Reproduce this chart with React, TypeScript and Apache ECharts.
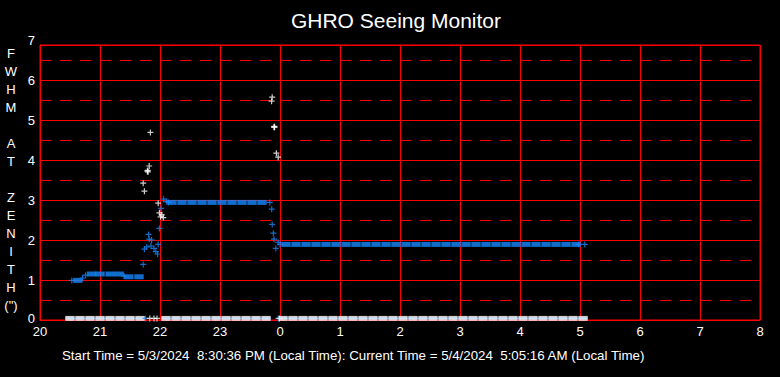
import React, { useEffect, useRef } from 'react';
import * as echarts from 'echarts';

const titleText = 'GHRO Seeing Monitor';
const footerText =
  'Start Time = 5/3/2024  8:30:36 PM (Local Time): Current Time = 5/4/2024  5:05:16 AM (Local Time)';
const yAxisTitle = ['F', 'W', 'H', 'M', '', 'A', 'T', '', 'Z', 'E', 'N', 'I', 'T', 'H', '(")'];
const xTickLabels = ['20', '21', '22', '23', '0', '1', '2', '3', '4', '5', '6', '7', '8'];
const yTickLabels = ['0', '1', '2', '3', '4', '5', '6', '7'];

// Hours are counted from 20:00 of the start day; 24 = midnight.
const sampleStepH = 1 / 6;

// Bottom row (no-measurement markers), regularly sampled runs
const bottomRun1Start = 20.5;
const bottomRun1 = [0.04, 0.04, 0.04, 0.04, 0.04, 0.04, 0.04, 0.04];
const bottomRun2Start = 22.1;
const bottomRun2 = [0.04, 0.04, 0.04, 0.04, 0.04, 0.04, 0.04, 0.04, 0.04, 0.04, 0.04];
const bottomRun3Start = 24.05;
const bottomRun3 = [
  0.04, 0.04, 0.04, 0.04, 0.04, 0.04, 0.04, 0.04, 0.04, 0.04,
  0.04, 0.04, 0.04, 0.04, 0.04, 0.04, 0.04, 0.04, 0.04, 0.04,
  0.04, 0.04, 0.04, 0.04, 0.04, 0.04, 0.04, 0.04, 0.04, 0.04, 0.04,
];
const bottomWhiteExtra = [[21.83, 0.04], [21.9, 0.04], [21.95, 0.04], [23.99, 0.04]];
const bottomBlueExtra = [[21.76, 0.04], [23.97, 0.04]];

// FWHM (blue) dense runs
const fwhmHighStart = 22.2;
const fwhmHigh = [2.94, 2.94, 2.94, 2.94, 2.94, 2.94, 2.94, 2.94, 2.94, 2.94];
const fwhmMidStart = 24.1;
const fwhmMid = [
  1.89, 1.89, 1.89, 1.89, 1.89, 1.89, 1.89, 1.89, 1.89, 1.89,
  1.89, 1.89, 1.89, 1.89, 1.89, 1.89, 1.89, 1.89, 1.89, 1.89,
  1.89, 1.89, 1.89, 1.89, 1.89, 1.89, 1.89, 1.89, 1.89, 1.89,
];
const fwhmLowTimes = [20.63, 20.86, 21.0, 21.17, 21.32, 21.48, 21.65];
const fwhmLowValues = [0.99, 1.15, 1.15, 1.15, 1.15, 1.08, 1.08];

// FWHM (blue) individual readings
const fwhmPointTimes = [
  20.53, 20.71, 20.76, 21.4,
  21.72, 21.74, 21.78, 21.81, 21.82, 21.85, 21.86, 21.9, 21.93, 21.96, 21.97, 21.99,
  22.02, 22.06, 22.11, 22.14,
  23.83, 23.862, 23.87, 23.89, 23.9, 23.93, 23.97, 24.0, 28.98, 29.08,
];
const fwhmPointValues = [
  0.99, 1.05, 1.12, 1.1,
  1.39, 1.77, 1.83, 2.14, 2.02, 1.85, 2.0, 1.79, 1.71, 1.65, 1.89, 2.29,
  2.79, 3.02, 2.96, 2.94,
  2.94, 2.77, 2.39, 2.17, 2.02, 1.79, 1.94, 1.89, 1.89, 1.89,
];

// Second (white) readings
const rawTimes = [
  21.72, 21.74, 21.79, 21.795, 21.8, 21.82, 21.84,
  21.97, 21.99, 22.01, 22.03, 22.055,
  23.86, 23.87, 23.9, 23.905, 23.91, 23.94, 23.97,
];
const rawValues = [
  3.42, 3.22, 3.72, 3.74, 3.7, 3.85, 4.69,
  2.92, 2.68, 2.58, 2.63, 2.56,
  5.47, 5.57, 4.82, 4.84, 4.82, 4.17, 4.07,
];

const RED = '#ff0000';
const BLUE = '#1488ff';
const WHITE = '#ffffff';
const FONT = '"Liberation Sans", Arial, sans-serif';
const PLUS = 'path://M0,2L5,2L5,3L0,3Z M2,0L3,0L3,5L2,5Z';

const run = (start: number, values: number[]) => values.map((v, i) => [start + i * sampleStepH, v]);
const pairs = (t: number[], v: number[]) => t.map((x, i) => [x, v[i]]);

export default function App() {
  const ref = useRef<HTMLDivElement>(null);

  useEffect(() => {
    document.body.style.margin = '0';
    document.body.style.background = '#000';
    const chart = echarts.init(ref.current!, undefined, { renderer: 'svg' });

    const bottom = [
      ...run(bottomRun1Start, bottomRun1),
      ...run(bottomRun2Start, bottomRun2),
      ...run(bottomRun3Start, bottomRun3),
    ];
    const fwhmRuns = [
      ...run(fwhmHighStart, fwhmHigh),
      ...run(fwhmMidStart, fwhmMid),
      ...pairs(fwhmLowTimes, fwhmLowValues),
    ];

    chart.setOption({
      animation: false,
      backgroundColor: '#000',
      grid: {
        left: 40,
        right: 20,
        top: 45,
        bottom: 57,
        show: true,
        borderColor: RED,
        borderWidth: 1,
        backgroundColor: 'transparent',
      },
      xAxis: {
        type: 'value',
        min: 20,
        max: 32,
        interval: 1,
        axisLine: { show: true, lineStyle: { color: RED, width: 1 } },
        axisTick: { show: false },
        axisLabel: {
          color: WHITE,
          fontFamily: FONT,
          fontSize: 13,
          margin: 5,
          formatter: (v: number) => xTickLabels[Math.round(v - 20)] ?? '',
        },
        splitLine: { show: true, lineStyle: { color: RED, width: 1 } },
      },
      yAxis: [
        {
          type: 'value',
          min: 0,
          max: 6.875,
          interval: 1,
          axisLine: { show: true, onZero: false, lineStyle: { color: RED, width: 1 } },
          axisTick: { show: false },
          axisLabel: {
            color: WHITE,
            fontFamily: FONT,
            fontSize: 13,
            margin: 5,
            showMaxLabel: false,
            formatter: (v: number) => {
              const i = Math.round(v);
              return i === 0 ? '{zero|' + yTickLabels[0] + '}' : yTickLabels[i] ?? '';
            },
            rich: {
              zero: { color: WHITE, fontFamily: FONT, fontSize: 13, padding: [0, 0, 4, 0] },
            },
          },
          splitLine: { show: true, lineStyle: { color: RED, width: 1 } },
        },
        {
          type: 'value',
          min: 0,
          max: 6.875,
          interval: 0.5,
          position: 'left',
          axisLine: { show: false },
          axisTick: { show: false },
          axisLabel: { show: false },
          splitLine: { show: true, lineStyle: { color: RED, width: 1, type: [11, 9] } },
        },
      ],
      series: [
        {
          name: 'Bottom (blue)',
          type: 'scatter',
          symbol: 'rect',
          symbolSize: [10, 2],
          itemStyle: { color: BLUE },
          data: bottom,
          z: 3,
          clip: false,
        },
        {
          name: 'Bottom (white)',
          type: 'scatter',
          symbol: 'rect',
          symbolSize: [9.4, 5],
          itemStyle: { color: WHITE },
          data: bottom,
          z: 4,
          clip: false,
        },
        {
          name: 'FWHM runs',
          type: 'scatter',
          symbol: 'rect',
          symbolSize: [9.4, 5],
          itemStyle: { color: BLUE },
          data: fwhmRuns,
          z: 5,
        },
        {
          name: 'FWHM',
          type: 'scatter',
          symbol: PLUS,
          symbolSize: [6, 6],
          itemStyle: { color: BLUE },
          data: [...pairs(fwhmPointTimes, fwhmPointValues), ...bottomBlueExtra],
          z: 6,
          clip: false,
        },
        {
          name: 'Raw',
          type: 'scatter',
          symbol: PLUS,
          symbolSize: [6, 6],
          itemStyle: { color: WHITE },
          data: [...pairs(rawTimes, rawValues), ...bottomWhiteExtra],
          z: 7,
          clip: false,
        },
      ],
      graphic: [
        {
          type: 'text',
          x: 396,
          y: 20,
          style: {
            text: titleText,
            fill: WHITE,
            fontFamily: FONT,
            fontSize: 21,
            align: 'center',
            verticalAlign: 'middle',
          },
        },
        {
          type: 'text',
          x: 11,
          y: 44,
          style: {
            text: yAxisTitle.join('\n'),
            fill: WHITE,
            fontFamily: FONT,
            fontSize: 13,
            lineHeight: 18,
            align: 'center',
            verticalAlign: 'top',
          },
        },
        {
          type: 'text',
          x: 35,
          y: 40,
          style: {
            text: yTickLabels[7],
            fill: WHITE,
            fontFamily: FONT,
            fontSize: 13,
            align: 'right',
            verticalAlign: 'middle',
          },
        },
        {
          type: 'text',
          x: 62,
          y: 355,
          style: {
            text: footerText,
            fill: WHITE,
            fontFamily: FONT,
            fontSize: 13.3,
            align: 'left',
            verticalAlign: 'middle',
          },
        },
      ],
    });

    return () => chart.dispose();
  }, []);

  return (
    <div
      ref={ref}
      style={{ position: 'fixed', left: 0, top: 0, width: 780, height: 377, background: '#000' }}
    />
  );
}
